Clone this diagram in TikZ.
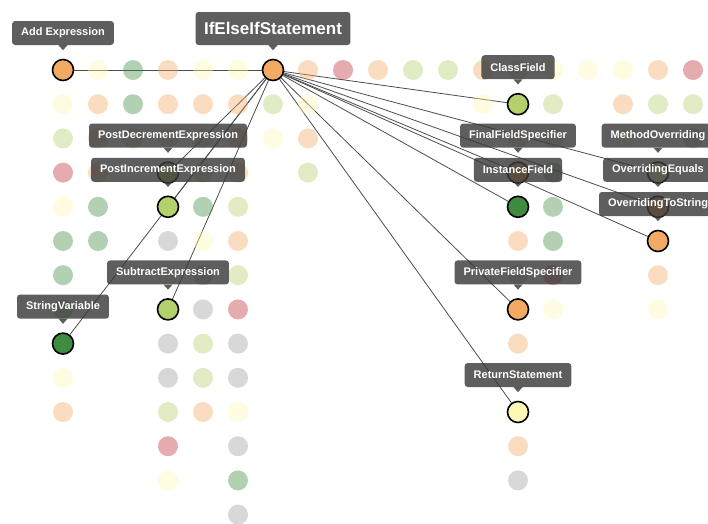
\documentclass[tikz,border=0pt]{standalone}
\usepackage{fontspec}
\setmainfont{Liberation Sans}
\usepackage{tikz}
\usetikzlibrary{positioning,backgrounds}

\definecolor{nodeorange}{HTML}{F3AA63}
\definecolor{nodeyellow}{HTML}{FFF7B5}
\definecolor{nodelgreen}{HTML}{B3D06C}
\definecolor{nodegreen}{HTML}{3F8B3F}
\definecolor{nodered}{HTML}{BD2C35}
\definecolor{nodegray}{HTML}{9D9D9D}
\definecolor{tipgray}{HTML}{3A3A3A}

\begin{document}
\begin{tikzpicture}[
    x=35pt, y=-34.2pt,
    faded/.style={circle, minimum size=20pt, inner sep=0pt, fill opacity=0.4},
    pick/.style={circle, draw=black, line width=1.6pt, minimum size=21pt, inner sep=0pt},
    tooltip/.style={fill=tipgray, fill opacity=0.82, text opacity=1, text=white, rounded corners=3pt,
        font=\bfseries\fontsize{11}{13}\selectfont, inner xsep=9pt, inner ysep=0pt,
        minimum height=24pt, above=13.5pt of #1},
    bigtooltip/.style={tooltip=#1, font=\bfseries\fontsize{17}{20}\selectfont, minimum height=33pt, inner xsep=8.5pt},
    link/.style={draw=black!70, line width=0.8pt}
]
\useasboundingbox (-63pt,70pt) rectangle (645pt,-453pt);
\clip (-63pt,70pt) rectangle (645pt,-453pt);

% faded grid
\foreach \c/\r/\k in {1/0/yellow,2/0/green,3/0/orange,4/0/yellow,5/0/yellow,7/0/orange,8/0/red,9/0/orange,
    10/0/lgreen,11/0/lgreen,12/0/orange,13/0/lgreen,14/0/yellow,15/0/yellow,16/0/yellow,17/0/orange,18/0/red,
    0/1/yellow,1/1/orange,2/1/green,3/1/orange,4/1/orange,5/1/orange,6/1/lgreen,7/1/yellow,
    12/1/yellow,14/1/lgreen,16/1/orange,17/1/lgreen,18/1/lgreen,
    0/2/lgreen,1/2/orange,2/2/orange,3/2/orange,4/2/orange,5/2/orange,6/2/yellow,7/2/orange,
    13/2/orange,14/2/lgreen,16/2/yellow,18/2/gray,
    0/3/red,1/3/orange,4/3/lgreen,5/3/orange,7/3/lgreen,14/3/green,
    0/4/yellow,1/4/green,4/4/green,5/4/lgreen,14/4/green,
    0/5/green,1/5/green,3/5/gray,4/5/yellow,5/5/orange,13/5/orange,14/5/green,
    0/6/green,3/6/yellow,4/6/gray,5/6/lgreen,13/6/gray,14/6/red,17/6/orange,
    0/7/green,4/7/gray,5/7/red,14/7/yellow,17/7/yellow,
    3/8/gray,4/8/lgreen,5/8/gray,13/8/orange,
    0/9/yellow,3/9/gray,4/9/lgreen,5/9/gray,13/9/yellow,
    0/10/orange,3/10/lgreen,4/10/orange,5/10/yellow,
    3/11/red,5/11/gray,13/11/orange,
    3/12/yellow,5/12/green,13/12/gray,
    5/13/gray}
  \node[faded, fill=node\k] (d-\c-\r) at (\c,\r) {};

\node[pick, fill=nodeorange] (add) at (0,0) {};
\node[pick, fill=nodeorange] (if) at (6,0) {};
\node[pick, fill=nodelgreen] (cls) at (13,1) {};
\node[pick, fill=nodelgreen] (pdec) at (3,3) {};
\node[pick, fill=nodelgreen] (pinc) at (3,4) {};
\node[pick, fill=nodelgreen] (sub) at (3,7) {};
\node[pick, fill=nodegreen] (sv) at (0,8) {};
\node[pick, fill=nodeorange] (ffs) at (13,3) {};
\node[pick, fill=nodegreen] (inst) at (13,4) {};
\node[pick, fill=nodeyellow] (mo) at (17,3) {};
\node[pick, fill=nodeorange] (oeq) at (17,4) {};
\node[pick, fill=nodeorange] (ots) at (17,5) {};
\node[pick, fill=nodeorange] (pfs) at (13,7) {};
\node[pick, fill=nodeyellow] (ret) at (13,10) {};

\begin{scope}[on background layer]
  \foreach \t in {add,cls,pdec,pinc,sub,sv,ffs,inst,mo,oeq,ots,pfs,ret}
    \draw[link] (if) -- (\t);
\end{scope}

\node[tooltip=add] (tAdd) {Add Expression};
\node[bigtooltip=if] (tIf) {IfElseIfStatement};
\node[tooltip=cls] (tCls) {ClassField};
\node[tooltip=pdec] (tPdec) {PostDecrementExpression};
\node[tooltip=pinc] (tPinc) {PostIncrementExpression};
\node[tooltip=sub] (tSub) {SubtractExpression};
\node[tooltip=sv] (tSv) {StringVariable};
\node[tooltip=ffs] (tFfs) {FinalFieldSpecifier};
\node[tooltip=inst] (tInst) {InstanceField};
\node[tooltip=mo] (tMo) {MethodOverriding};
\node[tooltip=oeq] (tOeq) {OverridingEquals};
\node[tooltip=ots] (tOts) {OverridingToString};
\node[tooltip=pfs] (tPfs) {PrivateFieldSpecifier};
\node[tooltip=ret] (tRet) {ReturnStatement};

\foreach \t in {tAdd,tIf,tCls,tPdec,tPinc,tSub,tSv,tFfs,tInst,tMo,tOeq,tOts,tPfs,tRet}
  \fill[tipgray, fill opacity=0.82] (\t.south) +(-4.5pt,0) -- +(0,-5pt) -- +(4.5pt,0) -- cycle;
\end{tikzpicture}
\end{document}
